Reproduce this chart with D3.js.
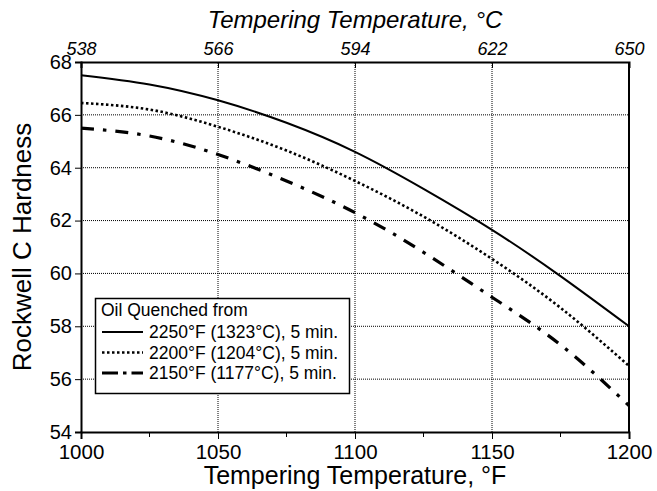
<!DOCTYPE html>
<html>
<head>
<meta charset="utf-8">
<script src="https://cdn.jsdelivr.net/npm/d3@7"></script>
<style>
body { margin: 0; background: #fff; }
svg text { font-family: "Liberation Sans", Arial, sans-serif; fill: #000; }
</style>
</head>
<body>
<div id="chart"></div>
<script>
// tempering temperature (F) and hardness values
var tempF = [1000, 1025, 1050, 1075, 1100, 1125, 1150, 1175, 1200];
var hard2250 = [67.5, 67.15, 66.55, 65.7, 64.6, 63.2, 61.65, 59.9, 58.0];
var hard2200 = [66.45, 66.2, 65.55, 64.65, 63.5, 62.15, 60.55, 58.7, 56.5];
var hard2150 = [65.5, 65.2, 64.5, 63.5, 62.3, 60.8, 59.1, 57.3, 55.0];

var xTicks = [1000, 1050, 1100, 1150, 1200];
var xMinor = [1025, 1075, 1125, 1175];
var cTicks = ["538", "566", "594", "622", "650"];
var yTicks = [54, 56, 58, 60, 62, 64, 66, 68];

var seriesNames = ["2250\u00b0F (1323\u00b0C), 5 min.", "2200\u00b0F (1204\u00b0C), 5 min.", "2150\u00b0F (1177\u00b0C), 5 min."];

var width = 657, height = 491;
var margin = {top: 62, right: 28, bottom: 59, left: 81};

var svg = d3.select('#chart').append('svg')
	.attr('width', width)
	.attr('height', height);

var x = d3.scaleLinear().domain([1000, 1200]).range([margin.left, width - margin.right]);
var y = d3.scaleLinear().domain([54, 68]).range([height - margin.bottom, margin.top]);

// grid lines
svg.append('g').selectAll('line.vg')
	.data([1050, 1100, 1150])
	.enter().append('line')
	.attr('x1', function(d) { return x(d); })
	.attr('x2', function(d) { return x(d); })
	.attr('y1', y(54)).attr('y2', y(68))
	.attr('stroke', '#000').attr('stroke-width', 1).attr('stroke-dasharray', '1,1');

svg.append('g').selectAll('line.hg')
	.data([56, 58, 60, 62, 64, 66])
	.enter().append('line')
	.attr('y1', function(d) { return y(d); })
	.attr('y2', function(d) { return y(d); })
	.attr('x1', x(1000)).attr('x2', x(1200))
	.attr('stroke', '#000').attr('stroke-width', 1).attr('stroke-dasharray', '1,1');

// axes
var bottomAxis = svg.append('g')
	.attr('transform', 'translate(0,' + y(54) + ')')
	.call(d3.axisBottom(x).tickValues(xTicks).tickSize(7).tickPadding(5).tickFormat(d3.format('d')));
bottomAxis.selectAll('text').style('font-size', '20.5px');

svg.append('g').selectAll('line')
	.data(xMinor)
	.enter().append('line')
	.attr('x1', function(d) { return x(d); })
	.attr('x2', function(d) { return x(d); })
	.attr('y1', y(54)).attr('y2', y(54) + 5)
	.attr('stroke', '#000');

var leftAxis = svg.append('g')
	.attr('transform', 'translate(' + x(1000) + ',0)')
	.call(d3.axisLeft(y).tickValues(yTicks).tickSize(6).tickPadding(3));
leftAxis.selectAll('text').style('font-size', '20px');

var topAxis = svg.append('g')
	.attr('transform', 'translate(0,' + y(68) + ')')
	.call(d3.axisTop(x).tickValues(xTicks).tickSize(-6).tickPadding(7)
		.tickFormat(function(d, i) { return cTicks[i]; }));
topAxis.selectAll('text').style('font-size', '18px').style('font-style', 'italic');

svg.append('line')
	.attr('x1', x(1200)).attr('x2', x(1200))
	.attr('y1', y(54)).attr('y2', y(68))
	.attr('stroke', '#000').attr('stroke-width', 2);

svg.selectAll('.domain').attr('stroke-width', 2);

// titles
svg.append('text')
	.attr('x', (x(1000) + x(1200)) / 2)
	.attr('y', 484)
	.attr('text-anchor', 'middle')
	.style('font-size', '25px')
	.text('Tempering Temperature, \u00b0F');

svg.append('text')
	.attr('x', (x(1000) + x(1200)) / 2)
	.attr('y', 28)
	.attr('text-anchor', 'middle')
	.style('font-size', '24px')
	.style('font-style', 'italic')
	.text('Tempering Temperature, \u00b0C');

svg.append('text')
	.attr('transform', 'translate(31,247) rotate(-90)')
	.attr('text-anchor', 'middle')
	.style('font-size', '26px')
	.text('Rockwell C Hardness');

// curves
var series = [
	{values: hard2250, dash: null, w: 2, legendDash: null},
	{values: hard2200, dash: '2.5,2.5', w: 2.6, legendDash: '2.5,2.5'},
	{values: hard2150, dash: '13,9,3.5,9', w: 3.2, legendDash: '16,5,3.5,5'}
];

var line = d3.line()
	.x(function(d, i) { return x(tempF[i]); })
	.y(function(d) { return y(d); })
	.curve(d3.curveNatural);

series.forEach(function(s) {
	svg.append('path')
		.attr('d', line(s.values))
		.attr('fill', 'none')
		.attr('stroke', '#000')
		.attr('stroke-width', s.w)
		.attr('stroke-dasharray', s.dash);
});

// legend
var lg = svg.append('g');
lg.append('rect')
	.attr('x', 95.5).attr('y', 298.5)
	.attr('width', 254).attr('height', 95)
	.attr('fill', '#fff').attr('stroke', '#000').attr('stroke-width', 1.5);
lg.append('text')
	.attr('x', 101).attr('y', 316)
	.style('font-size', '17.5px')
	.text('Oil Quenched from');

series.forEach(function(s, i) {
	var ly = 332 + i * 20.5;
	lg.append('line')
		.attr('x1', 102).attr('x2', 143)
		.attr('y1', ly).attr('y2', ly)
		.attr('stroke', '#000')
		.attr('stroke-width', s.w)
		.attr('stroke-dasharray', s.legendDash);
	lg.append('text')
		.attr('x', 149).attr('y', ly + 6)
		.style('font-size', '17.5px')
		.text(seriesNames[i]);
});
</script>
</body>
</html>
